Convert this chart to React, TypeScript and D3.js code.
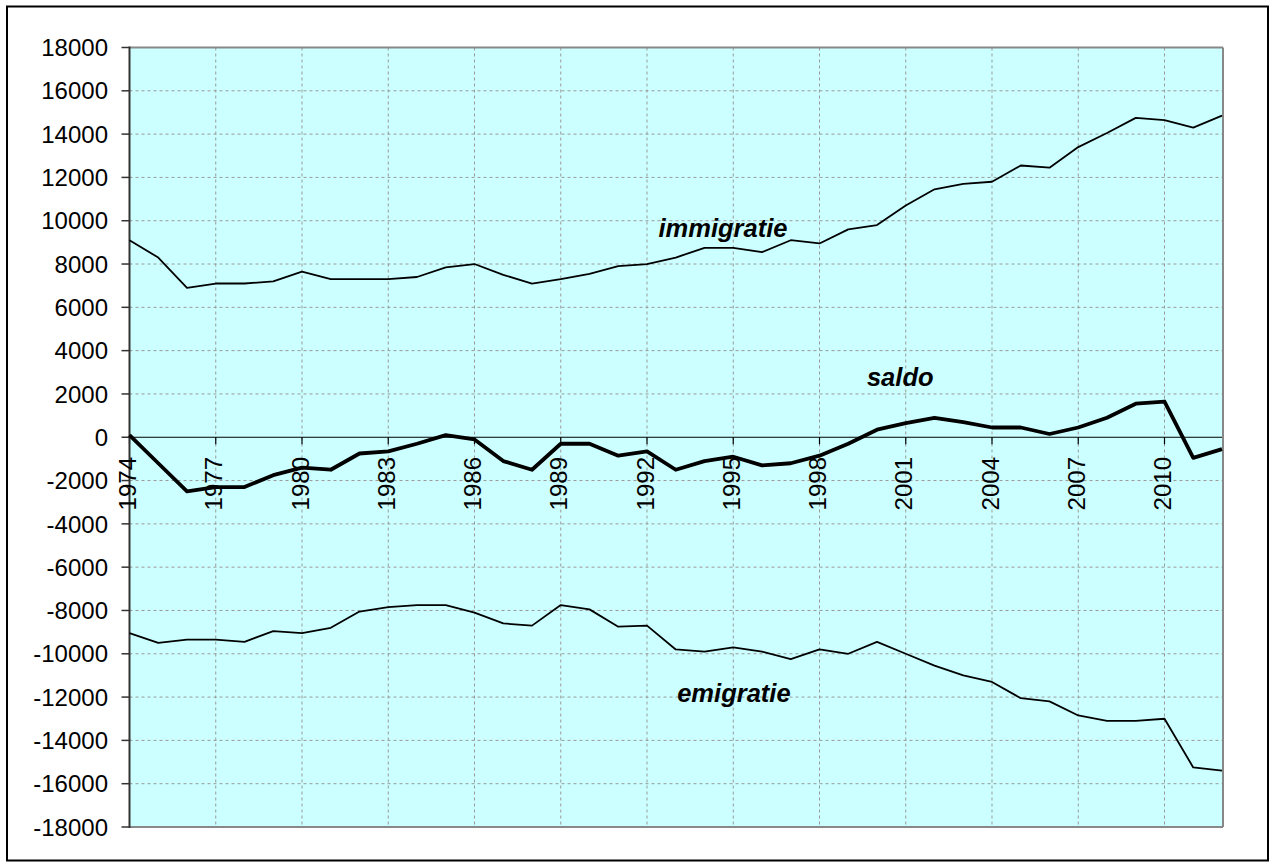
import React from "react";
import * as d3 from "d3";

const years: number[] = d3.range(1974, 2013);
const immigratie: number[] = [
  9100, 8300, 6900, 7100, 7100, 7200, 7650, 7300, 7300, 7300,
  7400, 7850, 8000, 7500, 7100, 7300, 7550, 7900, 8000, 8300,
  8750, 8750, 8550, 9100, 8950, 9600, 9800, 10700, 11450, 11700,
  11800, 12550, 12450, 13400, 14050, 14750, 14650, 14300, 14850,
];
const saldo: number[] = [
  100, -1200, -2500, -2300, -2300, -1750, -1400, -1500, -750, -650,
  -300, 100, -100, -1100, -1500, -300, -300, -850, -650, -1500,
  -1100, -900, -1300, -1200, -850, -300, 350, 650, 900, 700,
  450, 450, 150, 450, 900, 1550, 1650, -950, -550,
];
const emigratie: number[] = [
  -9050, -9500, -9350, -9350, -9450, -8950, -9050, -8800, -8050, -7850,
  -7750, -7750, -8100, -8600, -8700, -7750, -7950, -8750, -8700, -9800,
  -9900, -9700, -9900, -10250, -9800, -10000, -9450, -10000, -10550, -11000,
  -11300, -12050, -12200, -12850, -13100, -13100, -13000, -15250, -15400,
];
const yTicks: number[] = d3.range(-18000, 18001, 2000);
const xLabelYears: number[] = d3.range(1974, 2011, 3);

const seriesLabels = [
  { text: "immigratie", year: 1992.4, value: 9250 },
  { text: "saldo", year: 1999.65, value: 2350 },
  { text: "emigratie", year: 1993.05, value: -12250 },
];

export default function App() {
  const W = 1276;
  const H = 867;
  const left = 129.5, right = 1222, top = 47.5, bottom = 827;
  const x = d3.scaleLinear().domain([1974, 2012]).range([left, right]);
  const y = d3.scaleLinear().domain([-18000, 18000]).range([bottom, top]);
  const line = d3
    .line<number>()
    .x((_, i) => x(years[i]))
    .y((d) => y(d));
  const font = "'Liberation Sans', Arial, sans-serif";

  return (
    <svg
      width={W}
      height={H}
      style={{ position: "absolute", left: 0, top: 0, background: "#fff" }}
    >
      <rect x={7} y={6.5} width={1261} height={854} fill="#fff" stroke="#000" strokeWidth={2} />
      <rect x={left} y={top} width={right - left} height={bottom - top} fill="#CCFFFF" />
      {yTicks
        .filter((t) => t !== 18000 && t !== -18000 && t !== 0)
        .map((t) => (
          <line
            key={"h" + t}
            x1={left}
            x2={right}
            y1={y(t)}
            y2={y(t)}
            stroke="#999"
            strokeWidth={1}
            strokeDasharray="3,3"
          />
        ))}
      {xLabelYears
        .filter((yr) => yr !== 1974)
        .map((yr) => (
          <line
            key={"v" + yr}
            x1={x(yr)}
            x2={x(yr)}
            y1={top}
            y2={bottom}
            stroke="#999"
            strokeWidth={1}
            strokeDasharray="3,3"
          />
        ))}
      <line x1={left} x2={right + 1} y1={top} y2={top} stroke="#888" strokeWidth={2} />
      <line x1={right + 1} x2={right + 1} y1={top} y2={bottom} stroke="#888" strokeWidth={2} />
      <line x1={left} x2={right + 1} y1={bottom} y2={bottom} stroke="#888" strokeWidth={2} />
      <line x1={left} x2={right} y1={y(0)} y2={y(0)} stroke="#000" strokeWidth={1.2} />
      {xLabelYears.map((yr) => (
        <line key={"xt" + yr} x1={x(yr)} x2={x(yr)} y1={y(0)} y2={y(0) + 7} stroke="#000" strokeWidth={1.2} />
      ))}
      <line x1={left} x2={left} y1={top - 1} y2={bottom + 1} stroke="#333" strokeWidth={2} />
      {yTicks.map((t) => (
        <g key={"yt" + t}>
          <line x1={left - 8} x2={left} y1={y(t)} y2={y(t)} stroke="#333" strokeWidth={1.5} />
          <text
            x={108}
            y={y(t)}
            dy="0.36em"
            textAnchor="end"
            fontFamily={font}
            fontSize={24}
            fill="#000"
          >
            {t}
          </text>
        </g>
      ))}
      <path d={line(immigratie) || ""} fill="none" stroke="#000" strokeWidth={1.8} strokeLinejoin="round" />
      <path d={line(emigratie) || ""} fill="none" stroke="#000" strokeWidth={1.8} strokeLinejoin="round" />
      <path d={line(saldo) || ""} fill="none" stroke="#000" strokeWidth={3.8} strokeLinejoin="round" />
      {xLabelYears.map((yr) => (
        <text
          key={"xl" + yr}
          transform={`translate(${x(yr) + 6.5},457) rotate(-90)`}
          textAnchor="end"
          fontFamily={font}
          fontSize={24}
          fill="#000"
        >
          {yr}
        </text>
      ))}
      {seriesLabels.map((s) => (
        <text
          key={s.text}
          x={x(s.year)}
          y={y(s.value)}
          fontFamily={font}
          fontSize={25.5}
          fontWeight="bold"
          fontStyle="italic"
          fill="#000"
        >
          {s.text}
        </text>
      ))}
    </svg>
  );
}
